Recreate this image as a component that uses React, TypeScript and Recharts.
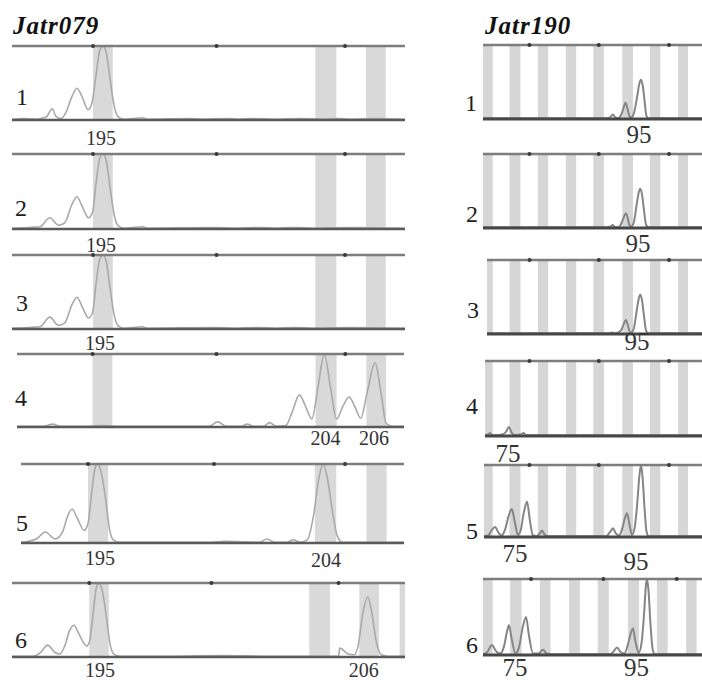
import React from 'react';
import {
  ComposedChart,
  Line,
  XAxis,
  YAxis,
  ReferenceArea,
  ReferenceLine,
  ReferenceDot,
} from 'recharts';

// marker names
const markerNames = ['Jatr079', 'Jatr190'];
const sampleIds = ['1', '2', '3', '4', '5', '6'];

// allele bins (bp) drawn as grey columns
const bins079: [number, number][] = [[194.6, 195.4], [203.6, 204.45], [205.65, 206.45]];
const edgeBin079: [number, number][] = [[207.3, 207.55]];
const bins190: [number, number][] = [
  [70.5, 72.0], [74.6, 76.3], [79.0, 80.6], [83.35, 84.95],
  [87.6, 89.25], [92.1, 93.75], [96.4, 98.0], [100.75, 102.3],
];

// size markers on the top rule
const marks079 = [194.6, 199.6, 204.8];
const marks190 = [77.7, 88.45, 99.35];

// called alleles per sample
const calls079 = [[195], [195], [195], [204, 206], [195, 204], [195, 206]];
const calls190 = [[95], [95], [95], [75], [75, 95], [75, 95]];

// traces: [size bp, relative height]
const trace079_1: [number, number][] = [
  [191.3, 1], [191.8, 2], [192.3, 1], [192.7, 4], [192.95, 15], [193.1, 5], [193.3, 2], [193.5, 10],
  [193.75, 32], [193.95, 43], [194.15, 32], [194.4, 14], [194.55, 22], [194.72, 60], [194.87, 94],
  [195.0, 100], [195.13, 92], [195.28, 58], [195.45, 20], [195.6, 5], [195.85, 1], [196.6, 3],
  [196.8, 1], [198.5, 2], [199.0, 1], [200.0, 2], [200.5, 1], [201.0, 2], [202.0, 1], [203.0, 2],
  [204.0, 1], [204.5, 2], [205.0, 1], [206.0, 2], [207.3, 1],
];
const trace079_2: [number, number][] = [
  [191.3, 1], [192.0, 2], [192.45, 3], [192.85, 15], [193.2, 5], [193.45, 8], [193.75, 33],
  [193.95, 43], [194.15, 31], [194.42, 15], [194.58, 22], [194.72, 60], [194.87, 94], [195.0, 100],
  [195.13, 92], [195.28, 58], [195.45, 20], [195.6, 5], [195.85, 1], [196.6, 3], [196.8, 1],
  [199.5, 2], [200.3, 1], [201.2, 2], [202.0, 1], [202.8, 2], [203.5, 1], [205.0, 2], [207.3, 1],
];
const trace079_3: [number, number][] = [
  [191.3, 1], [192.0, 2], [192.45, 3], [192.85, 16], [193.2, 5], [193.45, 8], [193.75, 33],
  [193.95, 43], [194.15, 31], [194.42, 15], [194.58, 22], [194.72, 60], [194.87, 94], [195.0, 100],
  [195.13, 92], [195.28, 58], [195.45, 20], [195.6, 5], [195.85, 1], [196.6, 3], [196.8, 1],
  [199.5, 2], [200.3, 1], [201.2, 2], [202.0, 1], [202.8, 2], [203.5, 1], [205.0, 2], [207.3, 1],
];
const trace079_4: [number, number][] = [
  [191.55, 1], [192.6, 1], [193.0, 4], [193.3, 1], [194.5, 1], [195.0, 2], [195.5, 1], [199.3, 1],
  [199.65, 7], [200.0, 1], [200.6, 1], [200.85, 4], [201.1, 1], [201.5, 1], [201.75, 6], [202.0, 1],
  [202.4, 2], [202.65, 20], [202.95, 44], [203.2, 28], [203.45, 11], [203.7, 55], [203.95, 100],
  [204.2, 55], [204.45, 11], [204.7, 28], [204.95, 41], [205.2, 27], [205.42, 12], [205.7, 50],
  [206.0, 88], [206.25, 45], [206.45, 5], [206.7, 1], [207.17, 1],
];
const trace079_5: [number, number][] = [
  [191.94, 1], [192.2, 2], [192.55, 5], [192.9, 14], [193.3, 5], [193.6, 15], [193.8, 35],
  [193.97, 43], [194.15, 33], [194.45, 16], [194.6, 25], [194.75, 65], [194.88, 95], [194.98, 100],
  [195.12, 90], [195.3, 55], [195.45, 18], [195.6, 4], [195.85, 1], [197.0, 1], [199.5, 1],
  [200.0, 2], [201.4, 1], [201.7, 5], [202.0, 1], [202.5, 1], [202.75, 4], [203.0, 1], [203.3, 4],
  [203.55, 35], [203.75, 80], [203.93, 100], [204.1, 82], [204.3, 40], [204.5, 8], [204.7, 1],
  [207.14, 1],
];
const trace079_6: [number, number][] = [
  [191.44, 1], [192.3, 1], [192.6, 6], [192.9, 16], [193.2, 6], [193.4, 4], [193.6, 15], [193.8, 36],
  [193.98, 43], [194.15, 33], [194.5, 15], [194.62, 22], [194.77, 62], [194.9, 95], [195.0, 100],
  [195.13, 90], [195.3, 55], [195.45, 18], [195.6, 4], [195.85, 1], [198.0, 1], [200.0, 2],
  [202.0, 1], [204.8, 1], [204.85, 12], [205.2, 4], [205.45, 3], [205.6, 15], [205.8, 60],
  [206.0, 81], [206.15, 62], [206.35, 20], [206.55, 3], [206.8, 1], [207.52, 1],
];

const trace190_1: [number, number][] = [
  [70.5, 1], [75, 1], [80, 1], [85, 1], [89.8, 1], [90.3, 3], [90.65, 6], [91.0, 2], [91.5, 1],
  [91.9, 5], [92.3, 15], [92.6, 22], [92.9, 14], [93.2, 4], [93.5, 2], [93.9, 8], [94.4, 30],
  [94.75, 48], [95.0, 53], [95.25, 46], [95.55, 25], [95.85, 4], [96.2, 1], [104.46, 1],
];
const trace190_2: [number, number][] = [
  [70.5, 1], [75, 1], [80, 1], [85, 1], [89.8, 1], [90.3, 2], [90.6, 4], [91.0, 1], [91.5, 1],
  [91.9, 5], [92.3, 14], [92.65, 20], [92.95, 13], [93.2, 4], [93.5, 2], [93.9, 8], [94.3, 30],
  [94.65, 48], [94.9, 53], [95.15, 46], [95.45, 25], [95.8, 4], [96.2, 1], [104.46, 1],
];
const trace190_3: [number, number][] = [
  [71.1, 1], [75, 1], [80, 1], [85, 1], [89.8, 1], [90.5, 2], [91.0, 1], [91.5, 2], [91.9, 5],
  [92.3, 13], [92.65, 19], [92.95, 12], [93.2, 4], [93.5, 2], [93.9, 8], [94.3, 30], [94.65, 48],
  [94.9, 53], [95.15, 46], [95.45, 25], [95.8, 4], [96.2, 1], [104.46, 1],
];
const trace190_4: [number, number][] = [
  [70.8, 1], [71.3, 2], [71.6, 4], [71.9, 1], [72.4, 1], [73.5, 2], [74.1, 6], [74.5, 12], [74.9, 5],
  [75.4, 1], [76.3, 2], [76.8, 4], [77.2, 1], [78.0, 1], [104.46, 1],
];
const trace190_5: [number, number][] = [
  [70.65, 1], [71.3, 2], [71.8, 9], [72.36, 14], [72.9, 6], [73.4, 2], [73.9, 10], [74.5, 30],
  [74.96, 39], [75.4, 22], [75.9, 3], [76.3, 8], [76.85, 35], [77.32, 49], [77.75, 24], [78.2, 3],
  [78.8, 1], [79.3, 5], [79.65, 9], [80.0, 4], [80.6, 1], [85, 1], [89.6, 1], [90.2, 7], [90.66, 12],
  [91.1, 5], [91.6, 2], [92.1, 12], [92.5, 26], [92.83, 33], [93.2, 18], [93.6, 3], [94.0, 12],
  [94.4, 45], [94.75, 85], [95.0, 100], [95.25, 82], [95.55, 40], [95.85, 8], [96.2, 1], [104.46, 1],
];
const trace190_6: [number, number][] = [
  [70.56, 1], [71.2, 4], [71.9, 13], [72.5, 5], [73.1, 2], [73.7, 12], [74.1, 30], [74.42, 39],
  [74.8, 22], [75.4, 2], [75.9, 10], [76.5, 38], [76.95, 50], [77.4, 25], [78.0, 2], [78.8, 2],
  [79.48, 7], [80.0, 2], [80.6, 1], [85, 1], [89.5, 1], [90.0, 5], [90.47, 10], [91.0, 4], [91.6, 2],
  [92.1, 14], [92.5, 28], [92.85, 35], [93.2, 18], [93.7, 3], [94.1, 15], [94.5, 55], [94.75, 90],
  [94.93, 100], [95.15, 85], [95.45, 40], [95.8, 6], [96.1, 1], [103.1, 1],
];

const traces079 = [trace079_1, trace079_2, trace079_3, trace079_4, trace079_5, trace079_6];
const traces190 = [trace190_1, trace190_2, trace190_3, trace190_4, trace190_5, trace190_6];

// page layout (px)
const PAD = 3;
const LABEL_H = 40;
const SERIF = '"Liberation Serif", "DejaVu Serif", serif';

const layout079 = [
  { top: 46, bottom: 120, left: 12, right: 405, domain: [191.32, 207.23], dy: [25], dx: [-2], num: [22, 97] },
  { top: 154, bottom: 229, left: 12, right: 405, domain: [191.32, 207.23], dy: [23], dx: [-2], num: [21, 208] },
  { top: 255, bottom: 329, left: 12, right: 405, domain: [191.32, 207.23], dy: [21], dx: [-3], num: [22, 303] },
  { top: 354, bottom: 427, left: 17, right: 404, domain: [191.55, 207.17], dy: [18, 18], dx: [0, -1], num: [21, 398] },
  { top: 464, bottom: 543, left: 21, right: 404, domain: [191.94, 207.14], dy: [22, 24], dx: [2, 1], num: [22, 523] },
  { top: 583, bottom: 657, left: 12, right: 405, domain: [191.44, 207.52], dy: [20, 20], dx: [1, -4], num: [21, 640] },
];
const layout190 = [
  { top: 45, bottom: 119, left: 483, right: 702, domain: [70.5, 104.46], dy: [24], dx: [-2], num: [471, 103] },
  { top: 154, bottom: 228, left: 483, right: 702, domain: [70.5, 104.46], dy: [24], dx: [-3], num: [472, 214] },
  { top: 260, bottom: 334, left: 487, right: 702, domain: [71.1, 104.46], dy: [16], dx: [-4], num: [473, 310] },
  { top: 361, bottom: 436, left: 485, right: 702, domain: [70.8, 104.46], dy: [26], dx: [-4], num: [472, 406] },
  { top: 465, bottom: 537, left: 484, right: 702, domain: [70.65, 104.46], dy: [25, 33], dx: [3, -5], num: [472, 531] },
  { top: 579, bottom: 655, left: 483, right: 702, domain: [70.56, 103.1], dy: [21, 21], dx: [2, -11], num: [472, 645] },
];

type Box = { top: number; bottom: number; left: number; right: number; domain: number[]; dy: number[]; dx: number[]; num: number[] };

function Panel({
  box, trace, bins, marks, calls, right, labelSize,
}: {
  box: Box; trace: [number, number][]; bins: [number, number][]; marks: number[];
  calls: number[]; right: boolean; labelSize: number;
}) {
  const data = trace.map(([x, y]) => ({ x, y }));
  const w = box.right - box.left;
  const h = box.bottom - box.top + PAD + LABEL_H;
  const renderTick = (props: any) => {
    const i = calls.indexOf(props.payload.value);
    return (
      <text
        x={props.x + (box.dx[i] || 0)}
        y={props.y + (box.dy[i] || 20)}
        textAnchor="middle"
        fontFamily={SERIF}
        fontSize={labelSize}
        fill="#333"
      >
        {props.payload.value}
      </text>
    );
  };
  return (
    <div style={{ position: 'absolute', left: box.left, top: box.top - PAD, width: w, height: h }}>
      <ComposedChart width={w} height={h} data={data} margin={{ top: PAD, right: 0, bottom: 0, left: 0 }}>
        <XAxis
          type="number"
          dataKey="x"
          domain={box.domain}
          allowDataOverflow
          ticks={calls}
          interval={0}
          tickLine={false}
          axisLine={false}
          tickSize={0}
          tickMargin={0}
          height={LABEL_H}
          tick={renderTick}
        />
        <YAxis hide domain={[0, 100]} allowDataOverflow />
        {bins.map(([a, b], i) => (
          <ReferenceArea key={i} x1={a} x2={b} y1={0} y2={100} ifOverflow="hidden"
            fill={right ? '#d6d6d6' : '#d9d9d9'} fillOpacity={1} stroke="none" />
        ))}
        <Line
          type="monotone"
          dataKey="y"
          stroke={right ? '#858585' : '#a9a9a9'}
          strokeWidth={right ? 2 : 1.6}
          dot={false}
          activeDot={false}
          isAnimationActive={false}
        />
        <ReferenceLine y={100} stroke="#7d7d7d" strokeWidth={2.5} />
        <ReferenceLine y={0} stroke={right ? '#474747' : '#5a5a5a'} strokeWidth={right ? 3 : 2.5} />
        {marks.map((m) => (
          <ReferenceDot key={m} x={m} y={100} r={2} fill="#3a3a3a" stroke="none" ifOverflow="visible" />
        ))}
      </ComposedChart>
    </div>
  );
}

const numStyle = (cx: number, cy: number): React.CSSProperties => ({
  position: 'absolute', left: cx - 10, top: cy - 12, width: 20, textAlign: 'center',
  fontFamily: SERIF, fontSize: 24, lineHeight: '24px', color: '#1e1e1e',
});

const titleStyle = (left: number): React.CSSProperties => ({
  position: 'absolute', left, top: 13, fontFamily: SERIF, fontSize: 25, lineHeight: '26px',
  fontWeight: 'bold', fontStyle: 'italic', letterSpacing: 1, color: '#111', whiteSpace: 'nowrap',
});

export default function App() {
  return (
    <div style={{ position: 'absolute', left: 0, top: 0, width: 702, height: 683, background: '#fff', overflow: 'hidden' }}>
      <div style={titleStyle(13)}>{markerNames[0]}</div>
      <div style={titleStyle(485)}>{markerNames[1]}</div>
      {layout079.map((box, i) => (
        <React.Fragment key={'a' + i}>
          <Panel
            box={box}
            trace={traces079[i]}
            bins={i === 5 ? [...bins079, ...edgeBin079] : bins079}
            marks={marks079}
            calls={calls079[i]}
            right={false}
            labelSize={20}
          />
          <div style={numStyle(box.num[0], box.num[1])}>{sampleIds[i]}</div>
        </React.Fragment>
      ))}
      {layout190.map((box, i) => (
        <React.Fragment key={'b' + i}>
          <Panel
            box={box}
            trace={traces190[i]}
            bins={bins190}
            marks={marks190}
            calls={calls190[i]}
            right
            labelSize={25}
          />
          <div style={numStyle(box.num[0], box.num[1])}>{sampleIds[i]}</div>
        </React.Fragment>
      ))}
    </div>
  );
}
